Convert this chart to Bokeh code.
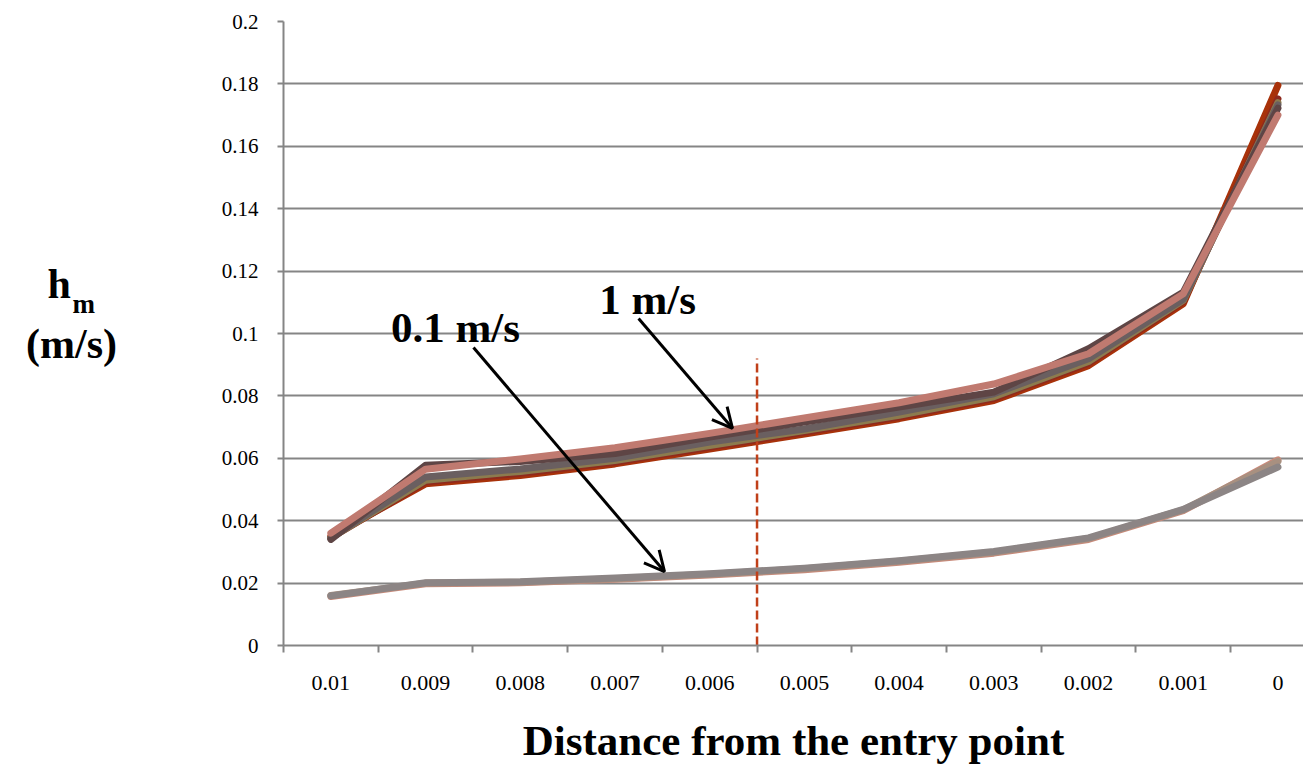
from bokeh.plotting import figure
from bokeh.layouts import row
from bokeh.models import Range1d, FixedTicker, NumeralTickFormatter, Label, Arrow, OpenHead
from bokeh.core.properties import value
from bokeh.embed import file_html
from bokeh.resources import INLINE

# ---------------- data ----------------
distance_labels = ["0.01", "0.009", "0.008", "0.007", "0.006", "0.005",
                   "0.004", "0.003", "0.002", "0.001", "0"]
x_idx = list(range(len(distance_labels)))

# 1 m/s group
v1_red = [0.0350, 0.0518, 0.0545, 0.0582, 0.0630, 0.0678, 0.0727, 0.0785, 0.0897, 0.1095, 0.1795]
v1_maroon = [0.0345, 0.0525, 0.0552, 0.0588, 0.0636, 0.0684, 0.0733, 0.0792, 0.0905, 0.1102, 0.1752]
v1_olive = [0.0345, 0.0530, 0.0558, 0.0593, 0.0641, 0.0689, 0.0738, 0.0797, 0.0910, 0.1106, 0.1740]
v1_gray = [0.0345, 0.0540, 0.0566, 0.0600, 0.0652, 0.0694, 0.0748, 0.0807, 0.0919, 0.1110, 0.1733]
v1_brown = [0.0340, 0.0578, 0.0590, 0.0615, 0.0668, 0.0716, 0.0764, 0.0812, 0.0951, 0.1132, 0.1722]
v1_pink = [0.0360, 0.0565, 0.0598, 0.0634, 0.0680, 0.0729, 0.0778, 0.0838, 0.0935, 0.1127, 0.1700]

# 0.1 m/s group
v01_salmon = [0.0157, 0.0198, 0.0201, 0.0212, 0.0226, 0.0243, 0.0267, 0.0296, 0.0340, 0.0432, 0.0595]
v01_tan = [0.0160, 0.0200, 0.0203, 0.0214, 0.0228, 0.0246, 0.0270, 0.0299, 0.0343, 0.0435, 0.0590]
v01_gray = [0.0159, 0.0201, 0.0204, 0.0216, 0.0230, 0.0248, 0.0272, 0.0301, 0.0345, 0.0436, 0.0572]

y_ticks = [0.0, 0.02, 0.04, 0.06, 0.08, 0.10, 0.12, 0.14, 0.16, 0.18, 0.20]

# dashed marker between 0.006 and 0.005
marker_x = 4.5
marker_top = 0.092

SERIF = "Liberation Serif"
GRID = "#858585"
TOTAL_W, TOTAL_H = 1303, 767
LEFT_W = 150

# ---------------- left panel: y-axis title ----------------
t = figure(frame_width=LEFT_W, frame_height=TOTAL_H, output_backend="svg",
           toolbar_location=None,
           x_range=Range1d(0, LEFT_W), y_range=Range1d(0, TOTAL_H),
           x_axis_location=None, y_axis_location=None,
           min_border_left=0, min_border_right=0, min_border_top=0, min_border_bottom=0)
t.outline_line_color = None
t.grid.grid_line_color = None
t.text(x=[47], y=[TOTAL_H - 262], text=["h"], text_align="left", text_baseline="alphabetic",
       text_font=value(SERIF), text_font_style="bold", text_font_size="42px", text_color="black")
t.text(x=[72], y=[TOTAL_H - 282], text=["m"], text_align="left", text_baseline="alphabetic",
       text_font=value(SERIF), text_font_style="bold", text_font_size="27px", text_color="black")
t.text(x=[71], y=[TOTAL_H - 322], text=["(m/s)"], text_align="center", text_baseline="alphabetic",
       text_font=value(SERIF), text_font_style="bold", text_font_size="42px", text_color="black")

# ---------------- main chart ----------------
p = figure(width=TOTAL_W - LEFT_W, height=TOTAL_H, output_backend="svg", toolbar_location=None,
           x_range=Range1d(-0.5, 10.27), y_range=Range1d(0, 0.2),
           min_border_left=283 - LEFT_W, min_border_right=0, min_border_top=21,
           min_border_bottom=TOTAL_H - 645)
p.outline_line_color = None
p.background_fill_color = "white"

# x axis: labels at category centres, tick marks between categories
xt = FixedTicker(ticks=x_idx, minor_ticks=[i - 0.5 for i in x_idx] + [len(x_idx) - 0.5])
p.xaxis.ticker = xt
p.xaxis.major_label_overrides = {i: lab for i, lab in zip(x_idx, distance_labels)}
p.xaxis.major_tick_line_color = None
p.xaxis.major_tick_out = 0
p.xaxis.major_tick_in = 0
p.xaxis.minor_tick_line_color = GRID
p.xaxis.minor_tick_line_width = 2
p.xaxis.minor_tick_out = 7
p.xaxis.minor_tick_in = 0
p.xaxis.major_label_standoff = 23
p.xaxis.major_label_text_font = SERIF
p.xaxis.major_label_text_font_size = "22px"
p.xaxis.major_label_text_color = "black"
p.xaxis.axis_line_color = GRID
p.xaxis.axis_line_width = 2
p.xaxis.axis_label = "Distance from the entry point"
p.xaxis.axis_label_text_font = SERIF
p.xaxis.axis_label_text_font_style = "bold"
p.xaxis.axis_label_text_font_size = "43px"
p.xaxis.axis_label_text_color = "black"
p.xaxis.axis_label_standoff = 24

# y axis
p.yaxis.ticker = FixedTicker(ticks=y_ticks)
p.yaxis.formatter = NumeralTickFormatter(format="0.[00]")
p.yaxis.major_tick_line_color = GRID
p.yaxis.major_tick_line_width = 2
p.yaxis.major_tick_out = 6
p.yaxis.major_tick_in = 0
p.yaxis.minor_tick_line_color = None
p.yaxis.major_label_standoff = 19
p.yaxis.major_label_text_font = SERIF
p.yaxis.major_label_text_font_size = "21px"
p.yaxis.major_label_text_color = "black"
p.yaxis.axis_line_color = GRID
p.yaxis.axis_line_width = 2

p.xgrid.grid_line_color = None
p.ygrid.ticker = FixedTicker(ticks=y_ticks)
p.ygrid.grid_line_color = GRID
p.ygrid.grid_line_width = 2

# series
upper = [(v1_red, "#A8320A"), (v1_maroon, "#8E2A1E"), (v1_olive, "#8C7B4E"),
         (v1_gray, "#6A5F60"), (v1_brown, "#5E4545"), (v1_pink, "#C07A70")]
lower = [(v01_salmon, "#C98A7A"), (v01_tan, "#A89080"), (v01_gray, "#8C8585")]
for vals, col in upper:
    p.line(x_idx, vals, line_color=col, line_width=7, line_join="round", line_cap="round")
for vals, col in lower:
    p.line(x_idx, vals, line_color=col, line_width=7, line_join="round", line_cap="round")

# dashed vertical marker
p.segment(x0=[marker_x], y0=[0], x1=[marker_x], y1=[marker_top],
          line_color="#C0401A", line_width=2.5, line_dash="9 4")

# annotations: arrows and labels
p.add_layout(Arrow(end=OpenHead(size=20, line_width=3, line_color="black"),
                   x_start=3.249, y_start=0.1048, x_end=4.241, y_end=0.0696,
                   line_width=3, line_color="black"))
p.add_layout(Arrow(end=OpenHead(size=20, line_width=3, line_color="black"),
                   x_start=1.506, y_start=0.0955, x_end=3.523, y_end=0.0237,
                   line_width=3, line_color="black"))

p.add_layout(Label(x=3.344, y=0.1108, text="1 m/s", text_align="center",
                   text_baseline="alphabetic", text_font=SERIF, text_font_style="bold",
                   text_font_size="43px", text_color="black"))
p.add_layout(Label(x=1.316, y=0.1018, text="0.1 m/s", text_align="center",
                   text_baseline="alphabetic", text_font=SERIF, text_font_style="bold",
                   text_font_size="43px", text_color="black"))

layout = row(t, p)
open("out.html", "w").write(file_html(layout, INLINE))
